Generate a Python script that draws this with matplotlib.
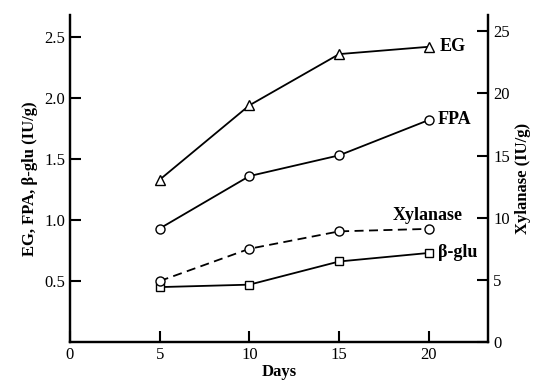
import matplotlib.pyplot as plt
import numpy as np

plt.rcParams['font.family'] = ['Liberation Serif', 'DejaVu Serif']

days = [5, 10, 15, 20]
eg = [1.33, 1.94, 2.36, 2.42]
fpa = [0.93, 1.36, 1.53, 1.82]
beta_glu = [0.45, 0.47, 0.66, 0.73]
xylanase = [4.9, 7.5, 8.9, 9.1]

fig = plt.figure(figsize=(5.46, 3.86), dpi=100)
ax = fig.add_axes([0.128, 0.114, 0.766, 0.847])
ax2 = ax.twinx()

lw = 1.3
ax.plot(days, eg, 'k-', marker='^', mfc='white', mec='black', ms=6.5, lw=lw)
ax.plot(days, fpa, 'k-', marker='o', mfc='white', mec='black', ms=6.5, lw=lw)
ax.plot(days, beta_glu, 'k-', marker='s', mfc='white', mec='black', ms=5.5, lw=lw)
ax2.plot(days, xylanase, 'k--', marker='o', mfc='white', mec='black', ms=6.5, lw=lw,
         dashes=(5, 3))

ax.set_xlim(0, 23.3)
ax.set_ylim(0, 2.68)
ax2.set_ylim(0, 26.3)

ax.set_xticks([0, 5, 10, 15, 20])
ax.set_yticks([0.5, 1.0, 1.5, 2.0, 2.5])
ax2.set_yticks([0, 5, 10, 15, 20, 25])

for a in (ax, ax2):
    a.tick_params(direction='in', length=8, width=1.5, labelsize=12)
    for s in a.spines.values():
        s.set_linewidth(1.6)
ax.spines['top'].set_visible(False)
ax2.spines['top'].set_visible(False)

ax.set_xlabel('Days', fontsize=12, fontweight='bold', labelpad=1)
ax.set_ylabel('EG, FPA, β-glu (IU/g)', fontsize=12, fontweight='bold')
ax2.set_ylabel('Xylanase (IU/g)', fontsize=12, fontweight='bold')

ax.text(days[-1] + 0.6, eg[-1], 'EG', fontsize=13, fontweight='bold', va='center')
ax.text(days[-1] + 0.5, fpa[-1], 'FPA', fontsize=13, fontweight='bold', va='center')
ax.text(days[-1] + 0.5, beta_glu[-1], 'β-glu', fontsize=13, fontweight='bold', va='center')
ax2.text(days[-1] - 2.0, xylanase[-1] + 1.1, 'Xylanase', fontsize=13, fontweight='bold',
         va='center')

fig.savefig('out.png', dpi=100)
